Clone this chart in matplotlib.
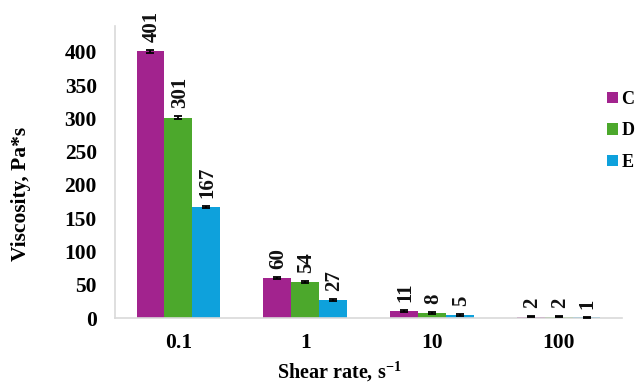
import numpy as np
import matplotlib
matplotlib.use("Agg")
import matplotlib.pyplot as plt

# Viscosity of three samples at four shear rates
shear_rates = ["0.1", "1", "10", "100"]
series_names = ["C", "D", "E"]
visc_C = [401, 60, 11, 2]
visc_D = [301, 54, 8, 2]
visc_E = [167, 27, 5, 1]
err_C = [2, 2, 1.5, 0.5]
err_D = [2, 2, 1.5, 0.5]
err_E = [2, 2, 1.5, 0.5]

colors = ["#A2238E", "#4CA82C", "#0EA1DC"]
serif = ["Liberation Serif", "DejaVu Serif"]

plt.rcParams["font.family"] = serif
plt.rcParams["font.weight"] = "bold"
plt.rcParams["mathtext.fontset"] = "custom"
plt.rcParams["mathtext.rm"] = "Liberation Serif:bold"
plt.rcParams["mathtext.bf"] = "Liberation Serif:bold"

W, H = 641, 383
fig = plt.figure(figsize=(W / 100, H / 100), dpi=100)
ax = fig.add_axes([115 / W, 1 - 318 / H, (622 - 115) / W, (318 - 26) / H])

x = np.arange(len(shear_rates))
width = 0.22
values = [visc_C, visc_D, visc_E]
errors = [err_C, err_D, err_E]
for i, (vals, errs, col, name) in enumerate(zip(values, errors, colors, series_names)):
    pos = x + (i - 1) * width
    ax.bar(pos, vals, width, color=col, label=name, zorder=2)
    ax.errorbar(pos, vals, yerr=errs, fmt="none", ecolor="black",
                elinewidth=1.3, capsize=3, capthick=1.3, zorder=3)
    for p, v, e in zip(pos, vals, errs):
        ax.text(p + 0.01, v + e + 12, f"{v}", rotation=90, ha="center", va="bottom",
                fontsize=15, fontweight="bold", color="#111111")

ax.set_xlim(-0.5, len(shear_rates) - 0.5)
ax.set_ylim(0, 439)
ax.set_yticks(np.arange(0, 401, 50))
ax.set_xticks(x)
ax.set_xticklabels(shear_rates)
ax.tick_params(axis="both", length=0, labelsize=15.5)
ax.tick_params(axis="x", pad=11)
ax.tick_params(axis="y", pad=13)
for lbl in ax.get_xticklabels() + ax.get_yticklabels():
    lbl.set_fontweight("bold")

for side in ["top", "right"]:
    ax.spines[side].set_visible(False)
for side in ["left", "bottom"]:
    ax.spines[side].set_color("#d9d9d9")
    ax.spines[side].set_linewidth(1.2)

fig.text(21 / W, 1 - 194 / H, "Viscosity, Pa*s", rotation=90, ha="center",
         va="center", fontsize=15.5, fontweight="bold")
fig.text(339 / W, 1 - 372 / H, "Shear rate, s$^{-1}$", ha="center",
         va="center", fontsize=14.5, fontweight="bold")

fig.legend(loc="upper left", bbox_to_anchor=(607 / W, 1 - 91 / H),
           frameon=False, handlelength=0.6, handleheight=0.6,
           handletextpad=0.2, labelspacing=0.8, borderpad=0, borderaxespad=0,
           prop={"weight": "bold", "size": 13, "family": serif})

fig.savefig("out.png", dpi=100)
